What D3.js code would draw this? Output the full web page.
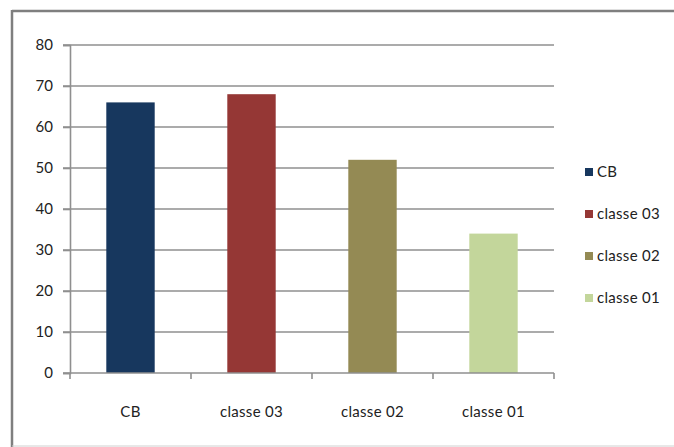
<!DOCTYPE html>
<html>
<head>
<meta charset="utf-8">
<script src="https://cdn.jsdelivr.net/npm/d3@7"></script>
<style>
  body { margin: 0; background: #fff; overflow: hidden; }
  svg { display: block; }
  svg text { font-family: Lato, "Open Sans", sans-serif; }
</style>
</head>
<body>
<script>
// chart data
const categories = ["CB", "classe 03", "classe 02", "classe 01"];
const values = [66, 68, 52, 34];
const colors = ["#17375E", "#953735", "#948A54", "#C3D69B"];
const yTicks = [0, 10, 20, 30, 40, 50, 60, 70, 80];

const width = 674, height = 447;
const margin = { top: 45, left: 70, right: 120, bottom: 74 };
const plotRight = 554;
const fontSize = 15;

const svg = d3.select("body").append("svg")
    .attr("width", width)
    .attr("height", height);

// frame of the chart area (right side is cut off in the picture)
svg.append("line").attr("x1", 12).attr("x2", 674).attr("y1", 11).attr("y2", 11)
    .attr("stroke", "#7f7f7f").attr("stroke-width", 2.5);
svg.append("line").attr("x1", 12).attr("x2", 12).attr("y1", 10).attr("y2", 447)
    .attr("stroke", "#7f7f7f").attr("stroke-width", 2.5);
svg.append("line").attr("x1", 12).attr("x2", 674).attr("y1", 446).attr("y2", 446)
    .attr("stroke", "#d0d0d0").attr("stroke-width", 1);

var x = d3.scaleBand()
    .domain(categories)
    .range([margin.left, plotRight])
    .paddingInner(0.6)
    .paddingOuter(0.3);

var y = d3.scaleLinear()
    .domain([0, 80])
    .range([373, margin.top]);

// gridlines
svg.append("g").selectAll("line.grid")
    .data(yTicks.filter(d => d > 0))
    .enter().append("line")
    .attr("class", "grid")
    .attr("x1", margin.left - 7)
    .attr("x2", plotRight)
    .attr("y1", d => y(d))
    .attr("y2", d => y(d))
    .attr("stroke", "#8f8f8f")
    .attr("stroke-width", 1.6);

// bars
svg.append("g").selectAll("rect")
    .data(values)
    .enter().append("rect")
    .attr("x", (d, i) => x(categories[i]))
    .attr("y", d => y(d))
    .attr("width", x.bandwidth())
    .attr("height", d => y(0) - y(d))
    .attr("fill", (d, i) => colors[i]);

// y axis
var yAxis = svg.append("g")
    .attr("transform", "translate(" + margin.left + ",0)")
    .call(d3.axisLeft(y).tickValues(yTicks).tickSize(7).tickPadding(10));
yAxis.select(".domain").attr("stroke", "#8f8f8f").attr("stroke-width", 1.6);
yAxis.selectAll(".tick line").attr("stroke", "#8f8f8f").attr("stroke-width", 1.6);
yAxis.selectAll("text").attr("font-size", fontSize).attr("fill", "#222")
    .style("font-family", "Lato, sans-serif");

// x axis (ticks between categories)
var xEdges = d3.range(categories.length + 1).map(i => margin.left + i * (plotRight - margin.left) / categories.length);
svg.append("line")
    .attr("x1", margin.left - 7).attr("x2", plotRight)
    .attr("y1", y(0)).attr("y2", y(0))
    .attr("stroke", "#8f8f8f").attr("stroke-width", 1.6);
svg.append("g").selectAll("line")
    .data(xEdges)
    .enter().append("line")
    .attr("x1", d => d).attr("x2", d => d)
    .attr("y1", y(0)).attr("y2", y(0) + 6)
    .attr("stroke", "#8f8f8f").attr("stroke-width", 1.6);
svg.append("g").selectAll("text")
    .data(categories)
    .enter().append("text")
    .attr("x", d => x(d) + x.bandwidth() / 2)
    .attr("y", 412)
    .attr("dy", "0.35em")
    .attr("text-anchor", "middle")
    .attr("font-size", fontSize)
    .attr("letter-spacing", 0.3)
    .attr("fill", "#222")
    .text(d => d);

// legend
var legend = svg.append("g").selectAll("g")
    .data(categories)
    .enter().append("g")
    .attr("transform", (d, i) => "translate(585," + (172 + i * 42) + ")");
legend.append("rect")
    .attr("x", 0).attr("y", -4)
    .attr("width", 8).attr("height", 8)
    .attr("fill", (d, i) => colors[i]);
legend.append("text")
    .attr("x", 12).attr("dy", "0.35em")
    .attr("font-size", fontSize)
    .attr("letter-spacing", 0.3)
    .attr("fill", "#222")
    .text(d => d);
</script>
</body>
</html>
